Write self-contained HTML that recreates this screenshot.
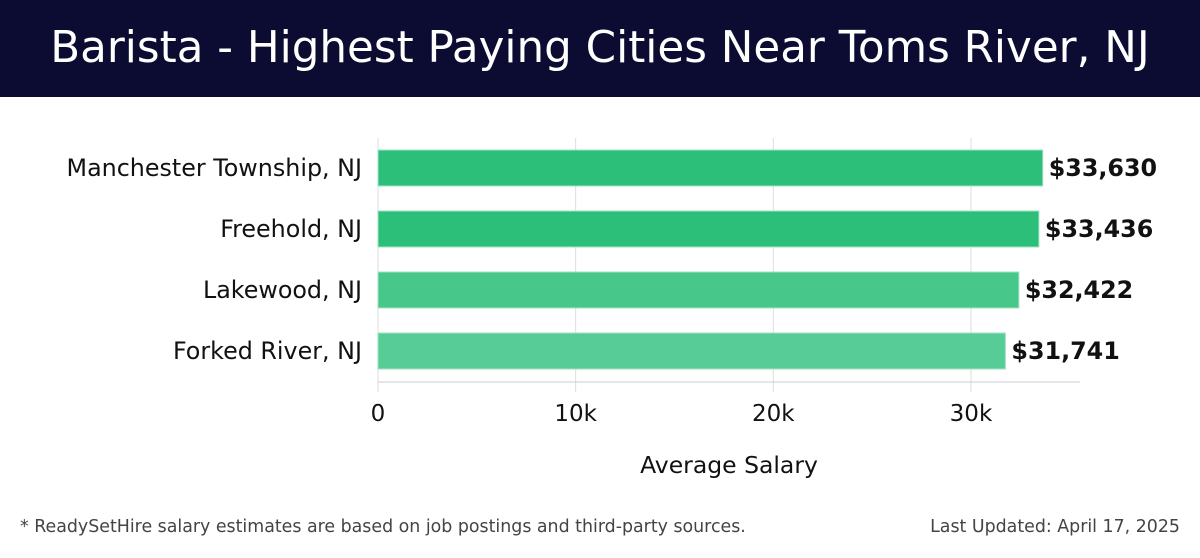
<!DOCTYPE html>
<html><head><meta charset="utf-8"><style>
body{margin:0;width:1200px;height:558px;background:#fff;font-family:"DejaVu Sans","Liberation Sans",sans-serif;overflow:hidden;position:relative}
#hdr{position:absolute;left:0;top:0;width:1200px;height:97px;background:#0c0c33;color:#fff;font-size:43.6px;text-align:center;line-height:97px;white-space:nowrap}
.foot{position:absolute;top:517px;font-size:17.4px;color:#444;white-space:nowrap}
</style></head><body>
<div id="hdr">Barista - Highest Paying Cities Near Toms River, NJ</div>
<svg id="c" width="1200" height="500" style="position:absolute;left:0;top:0;font-family:'DejaVu Sans','Liberation Sans',sans-serif"></svg>
<div class="foot" style="left:20px">* ReadySetHire salary estimates are based on job postings and third-party sources.</div>
<div class="foot" style="right:20px">Last Updated: April 17, 2025</div>
<script>
const categories=["Manchester Township, NJ","Freehold, NJ","Lakewood, NJ","Forked River, NJ"];
const values=[33630,33436,32422,31741];
const ticks=[0,10000,20000,30000];
const tickLabels=["0","10k","20k","30k"];
const colors=["#2cbf7a","#2cbf7a","#48c78b","#58cc97"];
const svg=document.getElementById('c');const NS="http://www.w3.org/2000/svg";
const x=v=>378+v*0.019766;
const y=i=>150+i*61;
function mk(t,a,txt){const e=document.createElementNS(NS,t);for(const k in a)e.setAttribute(k,a[k]);if(txt!==undefined)e.textContent=txt;svg.appendChild(e);return e;}
ticks.forEach((t,i)=>{
 const g=mk('line',{x1:x(t),x2:x(t),y1:138,y2:392,stroke:'#ddd','stroke-width':1});
 
 
 const l=mk('text',{x:x(t),y:421,'text-anchor':'middle','font-size':23,fill:'#111'},tickLabels[i]);
 
 
});
const ax=mk('line',{x1:378,x2:1080,y1:382,y2:382,stroke:'#ccc','stroke-width':1});


categories.forEach((c,i)=>{
 const r=mk('rect',{x:378,y:y(i),width:x(values[i])-378,height:36,fill:colors[i],stroke:'#9fe3c0','stroke-width':1});
 
 
 const l=mk('text',{x:362,y:y(i)+26,'text-anchor':'end','font-size':23.8,fill:'#111'},c);
 
 
 const v=mk('text',{x:x(values[i])+6,y:y(i)+26,'font-size':23.8,'font-weight':'bold',fill:'#111'},'$'+values[i].toLocaleString('en-US'));
 
 
});
const t=mk('text',{x:729,y:473,'text-anchor':'middle','font-size':23.5,fill:'#111'},'Average Salary');


</script>
</body></html>
